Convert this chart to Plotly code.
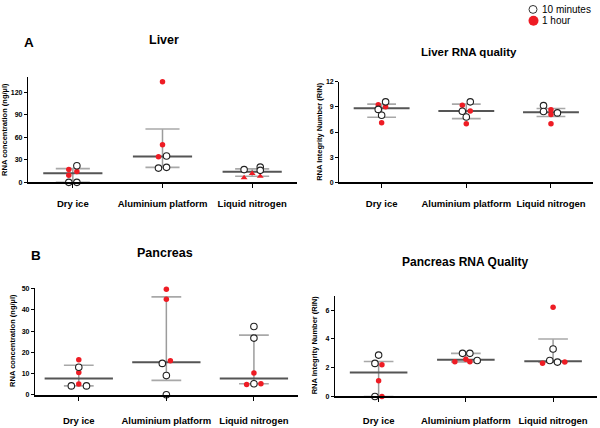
import plotly.graph_objects as go

# ---------------- DATA ----------------
categories = ["Dry ice", "Aluminium platform", "Liquid nitrogen"]

# Liver RNA concentration (ng/µl)
liver_conc_10min = [[22, 0, 0], [35, 19, 20], [17, 20.3, 16]]
liver_conc_1hour = [[17, 9.5, 14.3], [134, 50, 34], [6, 11.7, 8.2]]
liver_conc_median = [12, 34.5, 14]
liver_conc_low = [0, 20, 8.2]
liver_conc_high = [18.3, 71, 18]

# Liver RNA integrity number (RIN)
liver_rin_10min = [[9.6, 8.7, 8.0], [9.6, 8.47, 7.8], [9.15, 8.44, 8.28]]
liver_rin_1hour = [[9.25, 9.0, 7.1], [9.2, 8.5, 7.0], [8.67, 8.1, 7.0]]
liver_rin_median = [8.83, 8.5, 8.36]
liver_rin_low = [7.77, 7.6, 7.85]
liver_rin_high = [9.33, 9.33, 8.8]

# Pancreas RNA concentration (ng/µl)
panc_conc_10min = [[13.0, 4.2, 4.2], [14.8, 9.1, 0], [32.2, 26.7, 5.2]]
panc_conc_1hour = [[16.5, 10.5, 5.1], [49.7, 45, 16.0], [10.3, 4.8, 5.2]]
panc_conc_median = [7.7, 15.3, 7.7]
panc_conc_low = [4.2, 6.8, 5.2]
panc_conc_high = [13.9, 46.1, 28.1]

# Pancreas RNA integrity number (RIN)
panc_rin_10min = [[2.88, 2.3, 0], [3.0, 3.0, 2.5], [3.3, 2.5, 2.39]]
panc_rin_1hour = [[2.2, 1.09, 0], [2.59, 2.41, 2.41], [6.2, 2.32, 2.4]]
panc_rin_median = [1.66, 2.55, 2.45]
panc_rin_low = [0, 2.41, 2.39]
panc_rin_high = [2.43, 3.0, 4.0]

liver_conc_ticks = [0, 30, 60, 90, 120]
liver_rin_ticks = [0, 3, 6, 9, 12]
panc_conc_ticks = [0, 10, 20, 30, 40, 50]
panc_rin_ticks = [0, 2, 4, 6]

# ---------------- STYLE / LAYOUT ----------------
FONT = "Liberation Sans, Arial, Helvetica, sans-serif"
RED = "#ee1c24"
W, H = 600, 428

panels = [
    dict(ax="", d10=liver_conc_10min, d1=liver_conc_1hour, med=liver_conc_median,
         lo=liver_conc_low, hi=liver_conc_high, ticks=liver_conc_ticks, yr=[0, 140],
         xdom=[28, 297], ydom=[74.5, 181.3], mhw=0.33, whw=0.19, stand=8,
         j10=[[0.045, -0.045, 0.045], [0.045, -0.045, 0.045], [-0.09, 0.09, 0.09]],
         j1=[[-0.045, -0.045, 0.045], [0, 0, -0.045], [-0.09, 0, 0.09]],
         sym1=["circle", "circle", "triangle-up"],
         ytitle="RNA concentration (ng/µl)", ytx=5, yty=128),
    dict(ax="2", d10=liver_rin_10min, d1=liver_rin_1hour, med=liver_rin_median,
         lo=liver_rin_low, hi=liver_rin_high, ticks=liver_rin_ticks, yr=[0, 12],
         xdom=[339.3, 593.3], ydom=[79, 181.3], mhw=0.33, whw=0.17, stand=8,
         j10=[[0.047, -0.04, 0], [0.047, -0.047, 0], [-0.088, -0.088, 0.076]],
         j1=[[-0.04, 0.047, 0], [-0.047, 0.047, 0], [0, 0, 0]],
         sym1=["circle", "circle", "circle"],
         ytitle="RNA Integrity Number (RIN)", ytx=320, yty=130),
    dict(ax="3", d10=panc_conc_10min, d1=panc_conc_1hour, med=panc_conc_median,
         lo=panc_conc_low, hi=panc_conc_high, ticks=panc_conc_ticks, yr=[0, 50.5],
         xdom=[35, 297.7], ydom=[288.3, 397.3], mhw=0.39, whw=0.17, stand=12,
         j10=[[0, -0.085, 0.088], [-0.046, 0, 0], [0, 0, 0]],
         j1=[[0, 0, 0], [0, 0, 0.046], [0, -0.083, 0.08]],
         sym1=["circle", "circle", "circle"],
         ytitle="RNA concentration (ng/µl)", ytx=13, yty=342.5),
    dict(ax="4", d10=panc_rin_10min, d1=panc_rin_1hour, med=panc_rin_median,
         lo=panc_rin_low, hi=panc_rin_high, ticks=panc_rin_ticks, yr=[0, 7],
         xdom=[335, 596.7], ydom=[296.7, 399], mhw=0.33, whw=0.17, stand=10,
         j10=[[0, -0.042, -0.042], [-0.038, 0.046, 0.13], [0, -0.038, 0.05]],
         j1=[[0.038, 0, 0.038], [0, -0.126, 0.046], [0, -0.121, 0.134]],
         sym1=["circle", "circle", "circle"],
         ytitle="RNA Integrity Number (RIN)", ytx=314, yty=347),
]

fig = go.Figure()
layout = dict(width=W, height=H, margin=dict(l=0, r=0, t=0, b=0),
              paper_bgcolor="white", plot_bgcolor="white", showlegend=False,
              font=dict(family=FONT, color="black"))
annotations = []

for p in panels:
    xa, ya = "x" + p["ax"], "y" + p["ax"]
    n = len(categories)
    # vertical range lines
    vx, vy = [], []
    for i in range(n):
        vx += [i, i, None]
        vy += [p["lo"][i], p["hi"][i], None]
    fig.add_trace(go.Scatter(x=vx, y=vy, mode="lines", xaxis=xa, yaxis=ya,
                             line=dict(color="#9c9c9c", width=1.5), hoverinfo="skip", cliponaxis=False))
    # caps
    cx, cy = [], []
    for i in range(n):
        for v in (p["lo"][i], p["hi"][i]):
            cx += [i - p["whw"], i + p["whw"], None]
            cy += [v, v, None]
    fig.add_trace(go.Scatter(x=cx, y=cy, mode="lines", xaxis=xa, yaxis=ya,
                             line=dict(color="#a8a8a8", width=1.6), hoverinfo="skip", cliponaxis=False))
    # median
    mx, my = [], []
    for i in range(n):
        mx += [i - p["mhw"], i + p["mhw"], None]
        my += [p["med"][i], p["med"][i], None]
    fig.add_trace(go.Scatter(x=mx, y=my, mode="lines", xaxis=xa, yaxis=ya,
                             line=dict(color="#555555", width=2), hoverinfo="skip", cliponaxis=False))
    # 1 hour points
    for i in range(n):
        fig.add_trace(go.Scatter(
            x=[i + j for j in p["j1"][i]], y=p["d1"][i], mode="markers", xaxis=xa, yaxis=ya,
            marker=dict(symbol=p["sym1"][i], size=5.5 if p["sym1"][i] == "circle" else 6,
                        color=RED, line=dict(width=0)),
            name="1 hour", cliponaxis=False))
    # 10 min points
    xs, ys = [], []
    for i in range(n):
        xs += [i + j for j in p["j10"][i]]
        ys += p["d10"][i]
    fig.add_trace(go.Scatter(x=xs, y=ys, mode="markers", xaxis=xa, yaxis=ya,
                             marker=dict(symbol="circle", size=6.5, color="white",
                                         line=dict(color="#222222", width=1.1)),
                             name="10 minutes", cliponaxis=False))

    xkey = "xaxis" + p["ax"]
    ykey = "yaxis" + p["ax"]
    layout[xkey] = dict(domain=[p["xdom"][0] / W, p["xdom"][1] / W], range=[-0.5, 2.5],
                        anchor=ya, tickmode="array", tickvals=list(range(n)), ticktext=categories,
                        ticks="outside", ticklen=4, tickwidth=1, tickcolor="black",
                        showline=True, linecolor="black", linewidth=1.5,
                        showgrid=False, zeroline=False, fixedrange=True,
                        ticklabelstandoff=p["stand"],
                        tickfont=dict(family=FONT, size=9.5, color="black", weight="bold"))
    layout[ykey] = dict(domain=[1 - p["ydom"][1] / H, 1 - p["ydom"][0] / H], range=p["yr"],
                        anchor=xa, tickmode="array", tickvals=p["ticks"],
                        ticks="outside", ticklen=3, tickwidth=1, tickcolor="black",
                        showline=True, linecolor="black", linewidth=1.3,
                        showgrid=False, zeroline=False, fixedrange=True,
                        tickfont=dict(family=FONT, size=7, color="black", weight="bold"))
    annotations.append(dict(text=p["ytitle"], x=p["ytx"] / W, y=1 - p["yty"] / H,
                            xref="paper", yref="paper", showarrow=False, textangle=-90,
                            xanchor="center", yanchor="middle",
                            font=dict(family=FONT, size=7.5, color="black", weight="bold")))

titles = [("A", 29, 38.8, 13.5), ("Liver", 163.5, 36.5, 12.5), ("Liver RNA quality", 469, 49, 11.5),
          ("B", 36, 256, 13.5), ("Pancreas", 165, 253, 12.5), ("Pancreas RNA Quality", 466, 262.7, 12)]
for t, x, y, s in titles:
    annotations.append(dict(text=t, x=x / W, y=1 - y / H, xref="paper", yref="paper",
                            showarrow=False, xanchor="center", yanchor="middle",
                            font=dict(family=FONT, size=s, color="black", weight="bold")))

# legend (top right)
legend_items = ["10 minutes", "1 hour"]
leg_y = [5.5, 17]
for lbl, y in zip(legend_items, leg_y):
    annotations.append(dict(text=lbl, x=540 / W, y=1 - y / H, xref="paper", yref="paper",
                            showarrow=False, xanchor="left", yanchor="middle",
                            font=dict(family=FONT, size=10, color="black")))
shapes = [
    dict(type="circle", xref="paper", yref="paper", x0=529 / W, x1=537 / W,
         y0=1 - 9.5 / H, y1=1 - 1.5 / H, line=dict(color="#333333", width=1), fillcolor="white"),
    dict(type="circle", xref="paper", yref="paper", x0=528.5 / W, x1=538.5 / W,
         y0=1 - 22 / H, y1=1 - 12 / H, line=dict(width=0), fillcolor=RED),
]
layout["annotations"] = annotations
layout["shapes"] = shapes
fig.update_layout(**layout)
fig.write_html("out.html", config={"displayModeBar": False},
               post_script="document.body.style.margin='0';document.body.style.overflow='hidden';")
